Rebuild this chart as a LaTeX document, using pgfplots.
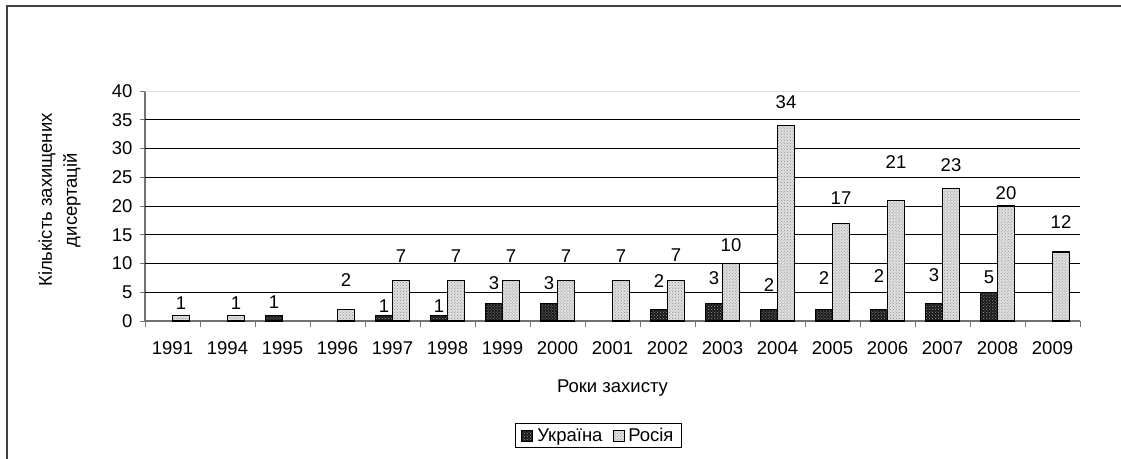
\documentclass[border=0pt]{standalone}
\usepackage{fontspec}
\setmainfont{Liberation Sans}
\usepackage{pgfplots}
\pgfplotsset{compat=1.18}
\usepackage{pgfplotstable}
\usetikzlibrary{patterns}

\pgfplotstableread{
x y off
2 1 13
4 1 9
5 1 9
6 3 21
7 3 21
9 2 28
10 3 26
11 2 24.5
12 2 31.5
13 2 33
14 3 29
15 5 15.5
}\ukraine

\pgfplotstableread{
x y off
0 1 12
1 1 12
3 2 29.5
4 7 25
5 7 25
6 7 25
7 7 25
8 7 25
9 7 26
10 10 18.5
11 34 23.5
12 17 25
13 21 38.5
14 23 24
15 20 12.7
16 12 29.5
}\russia

\newcommand{\bigf}{\fontsize{18.5bp}{22bp}\selectfont}

\begin{document}
\begin{tikzpicture}[font=\bigf]
\useasboundingbox (0,0) rectangle (1121bp,-459bp);
\draw[line width=1.5bp, black!75] (7bp,-459bp) -- (7bp,-6bp) -- (1121bp,-6bp);
\begin{axis}[
  at={(145bp,-321bp)}, anchor=south west,
  scale only axis, width=935bp, height=230bp,
  ybar=0pt, bar width=17bp,
  xmin=-0.5, xmax=16.5, ymin=0, ymax=40,
  axis x line=bottom, axis y line=left,
  axis line style={-, black!55, line width=1.3bp},
  xtick={0,...,16},
  xticklabels={1991,1994,1995,1996,1997,1998,1999,2000,2001,2002,2003,2004,2005,2006,2007,2008,2009},
  minor xtick={-0.5,0.5,...,16.5},
  major x tick style={draw=none},
  minor x tick style={black!55, line width=1bp},
  minor tick length=6bp,
  ytick={0,5,...,40},
  major y tick style={black!55, line width=1bp},
  major tick length=5bp,
  tick align=outside,
  extra y ticks={5,10,...,35},
  extra y tick labels={},
  extra y tick style={ymajorgrids=true, major tick length=0pt, grid style={black, line width=1bp}},
  /pgf/number format/assume math mode=true,
  tick label style={font=\bigf},
  xticklabel style={yshift=-12bp},
  yticklabel style={xshift=-4bp},
  xlabel={Роки захисту},
  x label style={at={(axis description cs:0.5,-0.313)}, anchor=base, font=\bigf},
  ylabel={Кількість захищених\\дисертацій},
  y label style={at={(axis description cs:-0.0914,0.526)}, anchor=center, align=center, font=\fontsize{18.5bp}{25bp}\selectfont},
  legend columns=2,
  legend style={at={(0.485,-0.498)}, anchor=center, draw=black, line width=1bp, inner xsep=6bp, inner ysep=3bp, font=\bigf,
    /tikz/every odd column/.append style={column sep=2bp},
    /tikz/every even column/.append style={column sep=8bp}},
  legend image code/.code={\draw[#1, line width=0.8bp] (0bp,-5.5bp) rectangle (11bp,5.5bp);},
  clip=false,
]
\addplot[draw=black, line width=1.3bp, fill=black!90, postaction={pattern=crosshatch dots, pattern color=black!40},
  nodes near coords, visualization depends on={\thisrow{off} \as \off},
  every node near coord/.append style={anchor=center, yshift=\off bp, black, font=\bigf}] table[x=x, y=y] {\ukraine};
\addplot[draw=black, line width=1.3bp, fill=black!12, postaction={pattern=crosshatch dots, pattern color=black!45},
  nodes near coords, visualization depends on={\thisrow{off} \as \off},
  every node near coord/.append style={anchor=center, yshift=\off bp, black, font=\bigf}] table[x=x, y=y] {\russia};
\legend{Україна, Росія}
\draw[black!12, line width=1bp] (rel axis cs:0,1) -- (rel axis cs:1,1);
\end{axis}
\end{tikzpicture}
\end{document}
